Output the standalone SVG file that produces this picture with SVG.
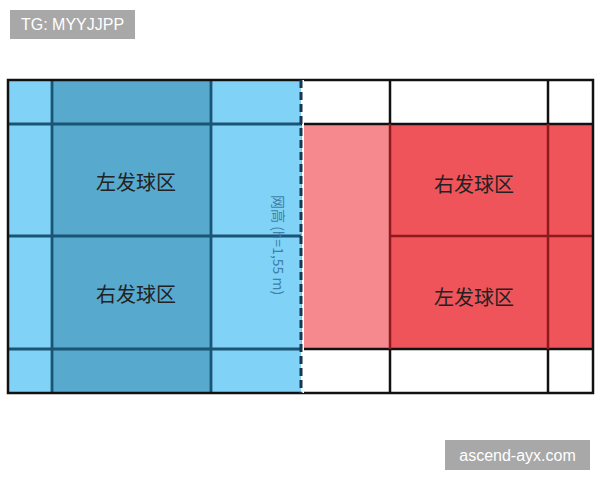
<svg xmlns="http://www.w3.org/2000/svg" width="600" height="480" viewBox="0 0 600 480">
<style>
.lb{stroke:#1b5575;stroke-width:2.8;fill:none}
.bk{stroke:#111;stroke-width:2.5;fill:none}
.rd{stroke:#8e1a1e;stroke-width:2.5;fill:none}
.zone{font-family:"Noto Sans CJK SC","Noto Sans CJK JP",sans-serif;font-size:20px;fill:#222;text-anchor:middle}
.tag{font-family:"Liberation Sans",Arial,sans-serif;font-size:16px;fill:#fff;text-anchor:middle}
</style>
<rect width="600" height="480" fill="#fff"/>
<g id="left-half">
<rect x="8" y="80" width="293" height="313" fill="#80d3f7"/>
<rect x="52" y="80" width="159" height="313" fill="#57a9cd"/>
<path class="lb" d="M52 80V393M211 80V393M8 124H301M8 236H301M8 349H301"/>
</g>
<g id="right-half">
<rect x="301" y="124" width="89" height="225" fill="#f5898d"/>
<rect x="390" y="124" width="203" height="225" fill="#ef545a"/>
<path class="bk" d="M390 80V124M548 80V124M390 349V393M548 349V393M301 124H593M301 349H593"/>
<path class="rd" d="M390 124V349M548 124V349M390 236H593"/>
</g>
<g id="court-border">
<rect x="8" y="80" width="585" height="313" class="bk"/>
</g>
<g id="net">
<line x1="303" y1="80" x2="303" y2="393" stroke="#fff" stroke-width="2"/>
<line x1="301" y1="80" x2="301" y2="393" stroke="#1a3550" stroke-width="3" stroke-dasharray="8,4"/>
<text x="273" y="195" transform="rotate(90 273 195)" font-family="Noto Sans CJK SC,Liberation Sans,sans-serif" font-size="14" fill="#3f7fa8">网高 (h=1,55 m)</text>
</g>
<g id="zone-tl"><text class="zone" x="136" y="190">左发球区</text></g>
<g id="zone-bl"><text class="zone" x="136" y="302">右发球区</text></g>
<g id="zone-tr"><text class="zone" x="474" y="192">右发球区</text></g>
<g id="zone-br"><text class="zone" x="474" y="305">左发球区</text></g>
<g id="tag-tl"><rect x="10" y="10" width="125" height="29" fill="#a8a8a8"/><text class="tag" x="72.5" y="30">TG: MYYJJPP</text></g>
<g id="tag-br"><rect x="445" y="440" width="145" height="30" fill="#a8a8a8"/><text class="tag" x="517.5" y="461">ascend-ayx.com</text></g>
</svg>
